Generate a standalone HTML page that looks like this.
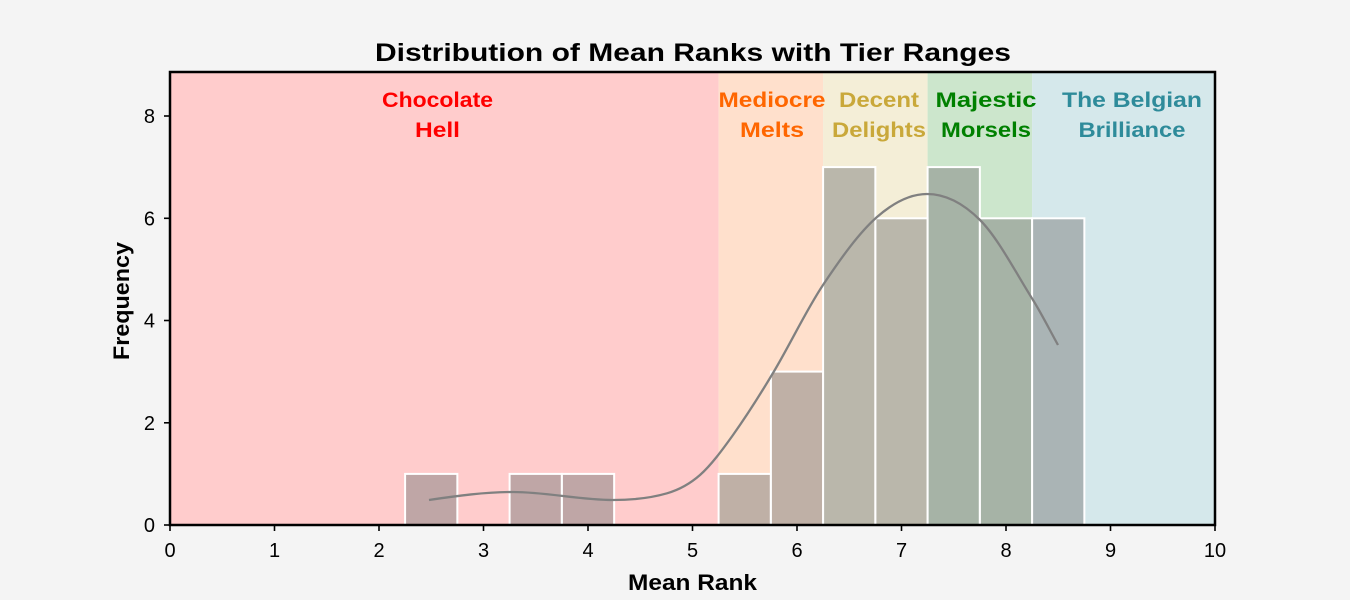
<!DOCTYPE html>
<html><head><meta charset="utf-8"><style>
html,body{margin:0;padding:0;background:#f4f4f4;}
svg{display:block;}
text{font-family:"Liberation Sans",sans-serif;}
</style></head><body>
<svg width="1350" height="600" viewBox="0 0 1350 600" xmlns="http://www.w3.org/2000/svg">
<rect x="0" y="0" width="1350" height="600" fill="#f4f4f4"/>
<!-- tier regions -->
<rect x="170" y="72" width="548.6" height="453" fill="#ffcccc"/>
<rect x="718.6" y="72" width="104.5" height="453" fill="#ffe0cc"/>
<rect x="823.1" y="72" width="104.5" height="453" fill="#f4eed7"/>
<rect x="927.6" y="72" width="104.5" height="453" fill="#cce6cc"/>
<rect x="1032.1" y="72" width="182.9" height="453" fill="#d5e8eb"/>
<!-- histogram bars -->
<g fill="#808080" fill-opacity="0.5" stroke="#ffffff" stroke-width="2">
<rect x="405.1" y="473.9" width="52.25" height="51.1"/>
<rect x="509.6" y="473.9" width="52.25" height="51.1"/>
<rect x="561.9" y="473.9" width="52.25" height="51.1"/>
<rect x="718.6" y="473.9" width="52.25" height="51.1"/>
<rect x="770.9" y="371.6" width="52.25" height="153.4"/>
<rect x="823.1" y="167.1" width="52.25" height="357.9"/>
<rect x="875.4" y="218.3" width="52.25" height="306.7"/>
<rect x="927.6" y="167.1" width="52.25" height="357.9"/>
<rect x="979.9" y="218.3" width="52.25" height="306.7"/>
<rect x="1032.1" y="218.3" width="52.25" height="306.7"/>
</g>
<!-- KDE -->
<path fill="none" stroke="#808080" stroke-width="2.3" stroke-linejoin="round"
d="M429,500 C457,495.8 485,492 513,492 C546.3,492 579.7,500 613,500 C631,500 649,498.5 667,493.3 C678,490.1 689,484.7 700,475 C711,465.3 722,450.4 733,435 C746.3,416.3 759.7,395.3 773,373 C789.7,345.2 806.3,310 823,285 C841,258 859,232.8 877,217 C893.7,202.4 910.3,194 927,194 C944.7,194 962.3,202.3 980,220 C997.7,237.7 1015.3,271.7 1033,300 C1041.3,313.3 1049.7,330 1058,345"/>
<!-- tier labels -->
<g font-weight="bold" font-size="21" text-anchor="middle">
<text x="437.5" y="107" fill="#ff0000" textLength="111" lengthAdjust="spacingAndGlyphs">Chocolate</text>
<text x="437.5" y="137" fill="#ff0000" textLength="45" lengthAdjust="spacingAndGlyphs">Hell</text>
<text x="772" y="107" fill="#ff6600" textLength="107" lengthAdjust="spacingAndGlyphs">Mediocre</text>
<text x="772" y="137" fill="#ff6600" textLength="64" lengthAdjust="spacingAndGlyphs">Melts</text>
<text x="879" y="107" fill="#c9a83a" textLength="80" lengthAdjust="spacingAndGlyphs">Decent</text>
<text x="879" y="137" fill="#c9a83a" textLength="94" lengthAdjust="spacingAndGlyphs">Delights</text>
<text x="986" y="107" fill="#008000" textLength="101" lengthAdjust="spacingAndGlyphs">Majestic</text>
<text x="986" y="137" fill="#008000" textLength="90" lengthAdjust="spacingAndGlyphs">Morsels</text>
<text x="1132" y="107" fill="#2e8b9a" textLength="140" lengthAdjust="spacingAndGlyphs">The Belgian</text>
<text x="1132" y="137" fill="#2e8b9a" textLength="107" lengthAdjust="spacingAndGlyphs">Brilliance</text>
</g>
<!-- frame -->
<rect x="170" y="72" width="1045" height="453" fill="none" stroke="#000" stroke-width="2.5"/>
<!-- ticks -->
<g stroke="#000" stroke-width="1.6">
<line x1="170" y1="525" x2="170" y2="531"/>
<line x1="274.5" y1="525" x2="274.5" y2="531"/>
<line x1="379" y1="525" x2="379" y2="531"/>
<line x1="483.5" y1="525" x2="483.5" y2="531"/>
<line x1="588" y1="525" x2="588" y2="531"/>
<line x1="692.5" y1="525" x2="692.5" y2="531"/>
<line x1="797" y1="525" x2="797" y2="531"/>
<line x1="901.5" y1="525" x2="901.5" y2="531"/>
<line x1="1006" y1="525" x2="1006" y2="531"/>
<line x1="1110.5" y1="525" x2="1110.5" y2="531"/>
<line x1="1215" y1="525" x2="1215" y2="531"/>
<line x1="164" y1="525" x2="170" y2="525"/>
<line x1="164" y1="422.8" x2="170" y2="422.8"/>
<line x1="164" y1="320.5" x2="170" y2="320.5"/>
<line x1="164" y1="218.3" x2="170" y2="218.3"/>
<line x1="164" y1="116" x2="170" y2="116"/>
</g>
<g font-size="20" fill="#000" text-anchor="middle">
<text x="170" y="557">0</text>
<text x="274.5" y="557">1</text>
<text x="379" y="557">2</text>
<text x="483.5" y="557">3</text>
<text x="588" y="557">4</text>
<text x="692.5" y="557">5</text>
<text x="797" y="557">6</text>
<text x="901.5" y="557">7</text>
<text x="1006" y="557">8</text>
<text x="1110.5" y="557">9</text>
<text x="1215" y="557">10</text>
</g>
<g font-size="20" fill="#000" text-anchor="end">
<text x="155" y="532">0</text>
<text x="155" y="430">2</text>
<text x="155" y="327.5">4</text>
<text x="155" y="225.5">6</text>
<text x="155" y="123">8</text>
</g>
<!-- axis labels & title -->
<text x="692.5" y="590" font-size="22" font-weight="bold" text-anchor="middle" textLength="129" lengthAdjust="spacingAndGlyphs">Mean Rank</text>
<text transform="translate(129,301) rotate(-90)" font-size="22" font-weight="bold" text-anchor="middle" textLength="118" lengthAdjust="spacingAndGlyphs">Frequency</text>
<text x="693" y="61" font-size="25" font-weight="bold" text-anchor="middle" textLength="636" lengthAdjust="spacingAndGlyphs">Distribution of Mean Ranks with Tier Ranges</text>
</svg>
</body></html>
